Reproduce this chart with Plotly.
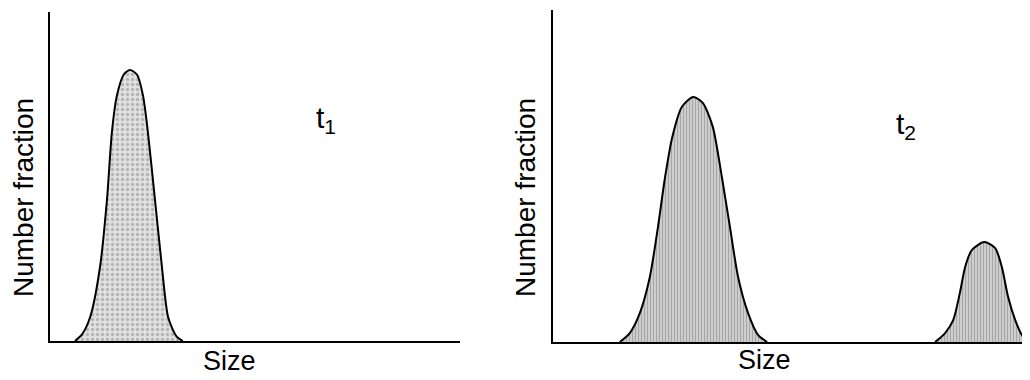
import plotly.graph_objects as go

# Panel t1: single size distribution (size, number fraction)
t1_size = [6.1, 7.8, 9.8, 12.2, 13.9, 15.1, 16.3, 18.0, 19.5, 21.2, 22.7, 23.9, 25.6, 27.3, 28.8, 30.8, 32.4]
t1_frac = [0.0, 0.02, 0.073, 0.225, 0.43, 0.635, 0.745, 0.81, 0.824, 0.81, 0.745, 0.632, 0.43, 0.225, 0.073, 0.015, 0.0]

# Panel t2: main peak
t2a_size = [14.0, 16.1, 18.2, 20.3, 22.0, 23.5, 25.0, 27.0, 29.4, 31.4, 33.5, 35.4, 37.1, 38.8, 40.9, 43.0, 44.9]
t2a_frac = [0.0, 0.027, 0.087, 0.196, 0.346, 0.497, 0.617, 0.708, 0.738, 0.720, 0.648, 0.497, 0.346, 0.196, 0.087, 0.021, 0.0]

# Panel t2: secondary (large-size) peak
t2b_size = [80.1, 82.2, 83.9, 85.3, 86.4, 87.8, 90.4, 92.7, 94.1, 95.4, 96.9, 98.3, 99.4]
t2b_frac = [0.0, 0.027, 0.066, 0.148, 0.226, 0.277, 0.301, 0.283, 0.226, 0.136, 0.066, 0.021, 0.0]

panel_labels = ["t<sub>1</sub>", "t<sub>2</sub>"]
x_title = "Size"
y_title = "Number fraction"

FONT = "Liberation Sans, Arial, sans-serif"
OFF = 8            # page body margin
W, H = 1030 - OFF, 380 - OFF

fig = go.Figure()

def add_peak(xs, ys, xa, ya, pat):
    fig.add_trace(go.Scatter(
        x=xs, y=ys, xaxis=xa, yaxis=ya, mode="lines",
        line=dict(color="black", width=2, shape="spline", smoothing=0.7),
        fill="tozeroy", fillcolor="#d0d0d0",
        fillpattern=pat,
        showlegend=False, hoverinfo="skip"))

add_peak(t1_size, t1_frac, "x", "y",
         dict(shape=".", fgcolor="#8a8a8a", bgcolor="#e0e0e0", size=5, solidity=0.35))
add_peak(t2a_size, t2a_frac, "x2", "y2",
         dict(shape="|", fgcolor="#808080", bgcolor="#cdcdcd", size=3, solidity=0.35))
add_peak(t2b_size, t2b_frac, "x2", "y2",
         dict(shape="|", fgcolor="#808080", bgcolor="#cdcdcd", size=3, solidity=0.35))

def px(x):
    return (x - OFF) / W

def py(y):
    return 1 - (y - OFF) / H

ax_common = dict(showline=True, linecolor="black", linewidth=1.5, showgrid=False,
                 zeroline=False, showticklabels=False, ticks="", mirror=False, fixedrange=True)

fig.update_layout(
    width=W, height=H,
    margin=dict(l=0, r=0, t=0, b=0),
    paper_bgcolor="white", plot_bgcolor="white",
    font=dict(family=FONT, color="black"),
    xaxis=dict(domain=[px(50), px(460)], range=[0, 100], anchor="y", **ax_common),
    yaxis=dict(domain=[py(341), py(12)], range=[0, 1], anchor="x", **ax_common),
    xaxis2=dict(domain=[px(553), 1.0], range=[0, 100], anchor="y2", **ax_common),
    yaxis2=dict(domain=[py(342), py(10)], range=[0, 1], anchor="x2", **ax_common),
)

ann = []
common = dict(xref="paper", yref="paper", showarrow=False, xanchor="center", yanchor="middle")
for xc, yc in [(229, 361), (764, 360)]:
    ann.append(dict(text=x_title, x=px(xc), y=py(yc), font=dict(size=27, family=FONT), **common))
for xc, yc in [(23, 198), (525, 198)]:
    ann.append(dict(text=y_title, x=px(xc), y=py(yc), textangle=-90,
                    font=dict(size=28, family=FONT), **common))
for (xc, yc), lab in zip([(326, 120), (906, 126)], panel_labels):
    ann.append(dict(text=lab, x=px(xc), y=py(yc), font=dict(size=30, family=FONT), **common))
fig.update_layout(annotations=ann)

fig.write_html("out.html")
